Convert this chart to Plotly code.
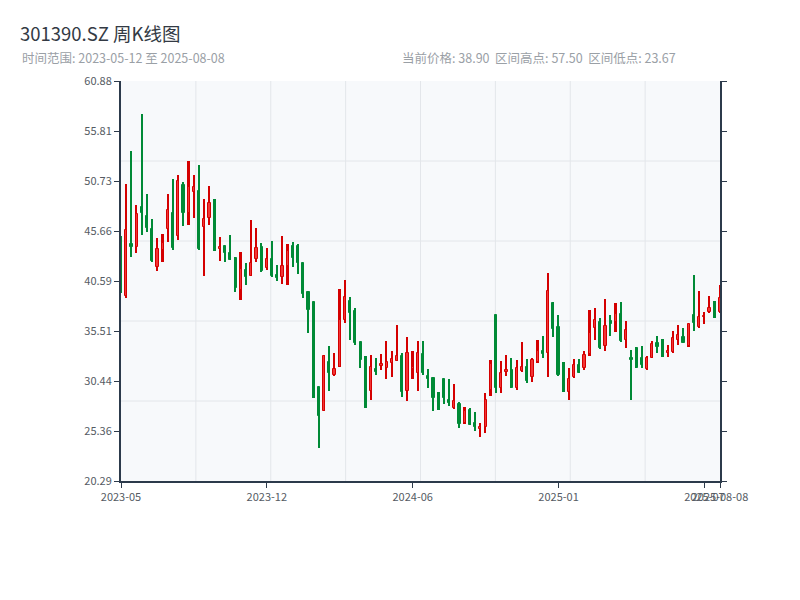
import pandas as pd
import numpy as np
import plotly.graph_objects as go

# weekly dates (holiday weeks without trading removed)
all_weeks = pd.date_range("2023-05-12", "2025-08-08", freq="7D")
missing_weeks = ["2023-10-06", "2024-02-16"]
dates = [d.strftime("%Y-%m-%d") for d in all_weeks if d.strftime("%Y-%m-%d") not in missing_weeks]

open_ = [45.10, 39.10, 44.35, 44.07, 48.12, 47.18, 45.86, 42.04, 43.73, 45.83,
         47.45, 45.15, 50.33, 47.52, 49.65, 49.72, 46.09, 46.95, 48.12, 43.86,
         44.11, 43.46, 42.89, 39.67, 41.70, 41.09, 42.79, 44.00, 41.87, 42.79,
         41.19, 41.02, 42.11, 44.14, 44.10, 42.38, 39.50, 38.48, 29.87, 27.42,
         32.40, 31.04, 31.83, 36.63, 38.58, 37.57, 34.42, 32.40, 29.45, 31.62,
         31.99, 31.79, 32.30, 32.50, 32.97, 29.40, 31.62, 31.28, 33.18, 30.94,
         30.71, 28.68, 30.61, 28.51, 27.66, 28.10, 26.14, 27.49, 26.14, 25.53,
         25.80, 29.52, 37.13, 29.69, 31.38, 31.55, 29.69, 31.48, 31.89, 30.81,
         32.40, 33.51, 33.31, 38.38, 35.95, 31.04, 29.35, 30.88, 32.06, 31.72,
         33.18, 35.78, 36.45, 33.99, 36.53, 36.45, 37.24, 34.60, 32.74, 33.75,
         32.81, 31.62, 32.81, 34.26, 34.60, 33.31, 33.41, 34.60, 34.87, 33.99,
         37.13, 35.95, 36.90, 37.47, 38.15, 37.47]
high = [45.20, 50.40, 53.78, 48.30, 57.50, 49.41, 46.88, 44.98, 45.35, 49.41,
        50.93, 51.31, 50.63, 52.76, 51.31, 52.36, 48.91, 50.22, 48.91, 45.05,
        44.11, 45.25, 42.99, 43.56, 42.44, 46.77, 45.93, 44.41, 43.97, 44.64,
        42.21, 45.15, 44.34, 44.57, 44.34, 42.38, 39.50, 38.48, 29.87, 33.07,
        33.99, 33.31, 39.74, 40.69, 38.93, 37.81, 34.42, 32.97, 33.07, 32.79,
        33.18, 34.52, 33.48, 36.12, 33.25, 34.93, 33.48, 34.52, 34.49, 31.62,
        30.71, 29.35, 30.61, 30.61, 30.13, 28.34, 27.76, 27.66, 27.32, 26.14,
        29.19, 32.57, 37.13, 32.47, 33.07, 32.74, 32.57, 34.42, 32.67, 32.74,
        34.59, 35.00, 41.37, 38.48, 37.13, 32.40, 31.72, 32.64, 32.64, 33.51,
        37.64, 37.88, 36.80, 38.76, 37.13, 38.32, 38.48, 36.53, 33.58, 33.85,
        33.99, 32.97, 34.49, 35.00, 34.66, 34.09, 35.51, 36.12, 35.78, 36.19,
        41.19, 39.57, 37.47, 39.06, 38.55, 40.18]
low = [39.40, 38.90, 43.05, 43.46, 45.25, 45.59, 42.54, 41.63, 42.54, 44.57,
       43.73, 44.75, 46.17, 46.27, 46.95, 43.76, 41.09, 46.27, 43.66, 42.64,
       42.54, 42.72, 39.50, 38.66, 40.18, 41.09, 42.54, 41.53, 41.70, 41.02,
       40.62, 40.28, 40.18, 42.04, 41.26, 38.83, 35.28, 28.74, 23.67, 27.42,
       29.45, 30.97, 31.83, 36.35, 34.60, 34.09, 31.73, 27.73, 28.53, 31.04,
       31.55, 30.61, 30.87, 32.50, 28.84, 28.44, 30.61, 29.42, 31.04, 29.69,
       27.42, 27.49, 28.10, 27.90, 27.59, 25.64, 26.07, 25.97, 25.39, 24.78,
       25.13, 28.91, 29.25, 29.25, 30.94, 29.76, 29.52, 31.38, 30.27, 30.37,
       32.23, 32.80, 30.87, 34.87, 30.94, 29.35, 28.51, 30.71, 31.21, 31.55,
       32.97, 34.59, 33.65, 33.51, 35.00, 35.44, 34.42, 33.75, 28.51, 31.72,
       31.72, 31.55, 32.81, 33.25, 32.84, 32.91, 33.31, 34.09, 34.26, 33.92,
       35.54, 35.78, 36.22, 37.31, 36.86, 37.37]
close = [39.60, 45.80, 44.05, 47.38, 47.51, 45.99, 42.60, 43.83, 44.41, 47.79,
         43.90, 50.73, 47.52, 50.09, 50.09, 43.83, 46.85, 48.53, 43.83, 44.04,
         43.46, 42.72, 39.84, 41.77, 41.02, 42.44, 43.90, 41.63, 42.79, 41.09,
         40.92, 42.11, 43.66, 42.89, 42.40, 39.26, 37.64, 29.80, 26.88, 32.97,
         31.22, 31.62, 36.63, 38.99, 37.31, 34.32, 32.57, 29.52, 31.83, 31.38,
         32.16, 32.40, 32.64, 32.97, 29.35, 33.30, 31.86, 33.25, 31.21, 30.61,
         28.68, 28.34, 28.68, 28.17, 28.44, 26.05, 27.39, 25.97, 25.74, 25.80,
         28.51, 32.16, 29.69, 31.21, 31.55, 29.76, 31.72, 31.83, 30.47, 32.57,
         33.51, 33.18, 39.60, 35.68, 31.04, 29.80, 30.64, 32.06, 31.21, 33.07,
         35.34, 36.63, 33.75, 36.02, 36.19, 37.24, 34.53, 35.61, 32.57, 31.72,
         32.06, 32.74, 34.16, 33.85, 32.84, 33.48, 34.77, 35.10, 34.32, 36.19,
         36.28, 36.90, 37.03, 37.81, 37.71, 38.90]

x_tick_vals = [dates[0], dates[28], dates[56], dates[84], dates[112], dates[-1]]
x_tick_text = ["2023-05", "2023-12", "2024-06", "2025-01", "2025-07", "2025-08-08"]
y_min, y_max = 20.29, 60.88
y_tick_text = ["20.29", "25.36", "30.44", "35.51", "40.59", "45.66", "50.73", "55.81", "60.88"]

FONT = "Noto Sans CJK SC, sans-serif"
AXIS_COLOR = "#2c3a4b"
GRID_COLOR = "#e3e6ea"
UP_LINE, UP_FILL = "#d40000", "#f23535"
DOWN = "#008a36"

is_up = [c >= o for o, c in zip(open_, close)]
wick_base = low
wick_len = [h - l for h, l in zip(high, low)]
body_base = [min(o, c) for o, c in zip(open_, close)]
body_len = [max(abs(c - o), 0.06) for o, c in zip(open_, close)]
line_cols = [UP_LINE if u else DOWN for u in is_up]
fill_cols = [UP_FILL if u else DOWN for u in is_up]

fig = go.Figure()
fig.add_trace(go.Bar(x=dates, y=wick_len, base=wick_base, width=0.32,
                     marker=dict(color=line_cols, line=dict(width=0)),
                     showlegend=False, hoverinfo="skip"))
fig.add_trace(go.Bar(x=dates, y=body_len, base=body_base, width=0.42,
                     marker=dict(color=fill_cols, line=dict(color=line_cols, width=1)),
                     showlegend=False))

shapes = []
for k in range(1, 8):
    shapes.append(dict(type="line", xref="paper", yref="paper", x0=k / 8, x1=k / 8, y0=0, y1=1,
                       line=dict(color=GRID_COLOR, width=1), layer="below"))
for k in range(1, 5):
    shapes.append(dict(type="line", xref="paper", yref="paper", x0=0, x1=1, y0=k / 5, y1=k / 5,
                       line=dict(color=GRID_COLOR, width=1), layer="below"))

fig.update_layout(
    width=800, height=600,
    margin=dict(l=113, r=88, t=73, b=127),
    paper_bgcolor="white", plot_bgcolor="#f7f9fb",
    font=dict(family=FONT, color="#555b63", size=11),
    barmode="overlay", bargap=0,
    shapes=shapes,
    title=dict(text="301390.SZ 周K线图", x=12 / 800, xref="container", xanchor="left",
               y=1 - 27 / 600, yref="container", yanchor="middle",
               font=dict(size=18.5, color="#333a44", family=FONT)),
    annotations=[
        dict(text="时间范围: 2023-05-12 至 2025-08-08", xref="paper", yref="paper",
             x=(12 - 113) / 599, y=(473 - 50) / 400, xanchor="left", yanchor="middle",
             showarrow=False, font=dict(size=12.5, color="#9aa0a6", family=FONT)),
        dict(text="当前价格: 38.90  区间高点: 57.50  区间低点: 23.67", xref="paper", yref="paper",
             x=(392 - 113) / 599, y=(473 - 50) / 400, xanchor="left", yanchor="middle",
             showarrow=False, font=dict(size=12.5, color="#9aa0a6", family=FONT)),
    ],
    xaxis=dict(type="category", range=[0, len(dates) - 1],
               showgrid=False, tickmode="array", tickvals=x_tick_vals, ticktext=x_tick_text,
               tickangle=0, ticks="outside", ticklen=5, tickcolor=AXIS_COLOR,
               showline=True, linecolor=AXIS_COLOR, linewidth=2, zeroline=False,
               tickfont=dict(size=11, color="#555b63")),
    yaxis=dict(range=[y_min, y_max], showgrid=False, tickmode="array",
               tickvals=list(np.linspace(y_min, y_max, 9)), ticktext=y_tick_text,
               ticks="outside", ticklen=5, tickcolor=AXIS_COLOR, mirror="ticks",
               showline=True, linecolor=AXIS_COLOR, linewidth=2, zeroline=False,
               tickfont=dict(size=11, color="#555b63")),
)

fig.write_html("out.html")
